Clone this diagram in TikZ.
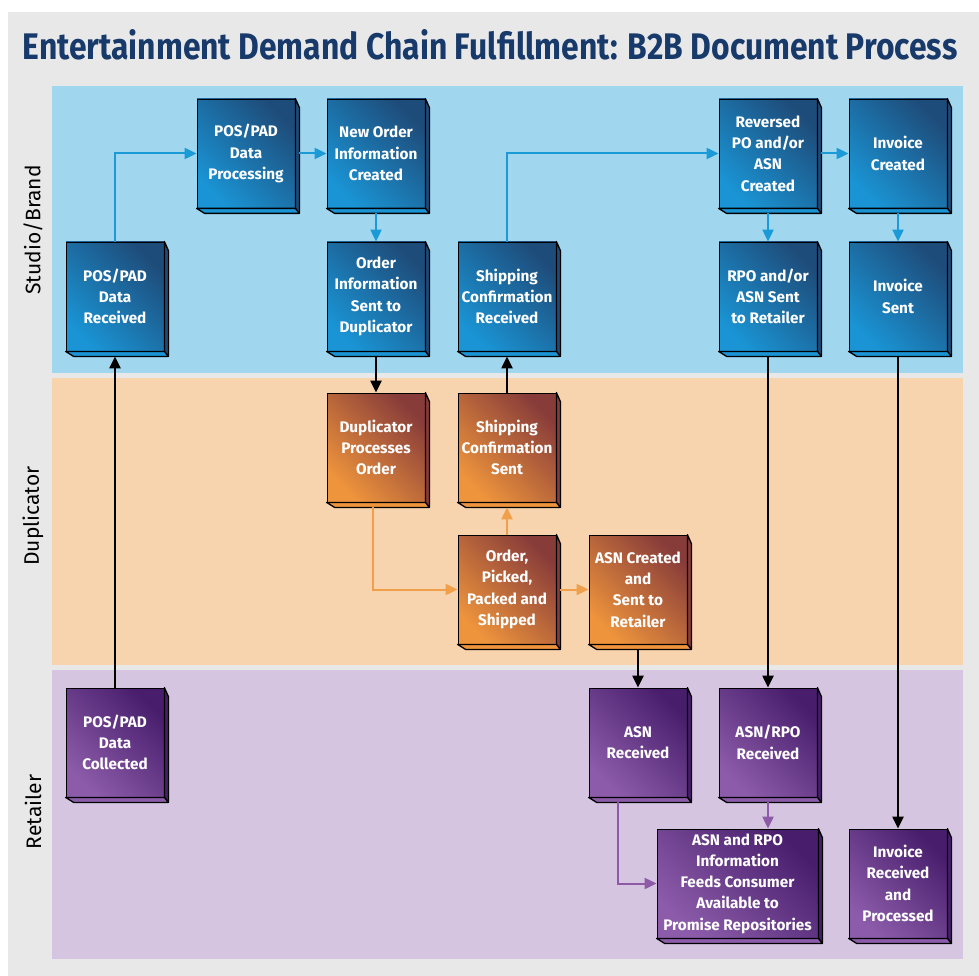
\documentclass[tikz,border=0pt]{standalone}
\usepackage{fontspec}
\setmainfont{Fira Sans}
\newfontfamily\titlefont[FakeStretch=0.86]{Fira Sans}
\usetikzlibrary{positioning,arrows.meta}
\definecolor{pagegrey}{RGB}{232,232,232}
\definecolor{titleblue}{RGB}{24,58,106}
\definecolor{lanestudio}{RGB}{160,214,238}
\definecolor{laneduplic}{RGB}{247,211,174}
\definecolor{laneretail}{RGB}{213,197,224}
\definecolor{dkblue}{RGB}{30,76,122}
\definecolor{ltblue}{RGB}{26,148,212}
\definecolor{dkorange}{RGB}{136,60,58}
\definecolor{ltorange}{RGB}{238,148,60}
\definecolor{dkpurple}{RGB}{72,30,108}
\definecolor{ltpurple}{RGB}{140,92,170}
\definecolor{arrblue}{RGB}{26,154,215}
\definecolor{arrorange}{RGB}{240,160,75}
\definecolor{arrpurple}{RGB}{141,90,167}
\tikzset{
  doc/.style={rectangle,draw=black,line width=0.8pt,minimum width=98pt,minimum height=109pt,inner sep=1pt,
    align=center,text=white,font=\bfseries\fontsize{15.3}{21.3}\selectfont},
  bdoc/.style={doc,top color=dkblue,bottom color=ltblue,shading angle=-45},
  odoc/.style={doc,top color=dkorange,bottom color=ltorange,shading angle=-45},
  pdoc/.style={doc,top color=dkpurple,bottom color=ltpurple,shading angle=-45},
  bevel/.style={line width=1.3pt,draw=black,line join=round},
  lanelab/.style={rotate=90,font=\fontsize{21}{24}\selectfont},
  barr/.style={draw=arrblue,line width=2pt,-{Triangle[length=12pt,width=11pt]}},
  oarr/.style={draw=arrorange,line width=2pt,-{Triangle[length=12pt,width=11pt]}},
  parr/.style={draw=arrpurple,line width=2pt,-{Triangle[length=12pt,width=11pt]}},
  karr/.style={draw=black,line width=2.2pt,-{Triangle[length=12pt,width=11pt]}}
}
\begin{document}
\begin{tikzpicture}[x=1pt,y=-1pt]
  \useasboundingbox (0,0) rectangle (979,976);
  \fill[pagegrey] (8,12) rectangle (979,976);
  \node[font=\titlefont\bfseries\fontsize{37}{40}\selectfont,text=titleblue] (title) at (490,45)
    {Entertainment Demand Chain Fulfillment: B2B Document Process};
  % swim lanes
  \fill[lanestudio] (52,86) rectangle (963,373);
  \fill[laneduplic] (52,378) rectangle (963,665);
  \fill[laneretail] (52,670) rectangle (963,959);
  \node[lanelab] (studio) at (33,230) {Studio/Brand};
  \node[lanelab] (duplic) at (33,516) {Duplicator};
  \node[lanelab] (retail) at (33,812) {Retailer};
  % studio/brand
  \node[bdoc] (proc) at (246,153.5) {POS/PAD\\Data\\Processing};
  \node[bdoc] (neword) at (376,153.5) {New Order\\Information\\Created};
  \node[bdoc] (revpo) at (768,153.5) {Reversed\\PO and/or\\ASN\\Created};
  \node[bdoc] (invcr) at (898,153.5) {Invoice\\Created};
  \node[bdoc] (rec) at (115,296.5) {POS/PAD\\Data\\Received};
  \node[bdoc] (ordsent) at (376,296.5) {Order\\Information\\Sent to\\Duplicator};
  \node[bdoc] (shiprec) at (507,296.5) {Shipping\\Confirmation\\Received};
  \node[bdoc] (rposent) at (768,296.5) {RPO and/or\\ASN Sent\\to Retailer};
  \node[bdoc] (invsent) at (898,296.5) {Invoice\\Sent};
  % duplicator
  \node[odoc] (dupproc) at (376,447.5) {Duplicator\\Processes\\Order};
  \node[odoc] (shipsent) at (507,447.5) {Shipping\\Confirmation\\Sent};
  \node[odoc] (picked) at (507,589.5) {Order,\\Picked,\\Packed and\\Shipped};
  \node[odoc] (asncr) at (638,589.5) {ASN Created\\and\\Sent to\\Retailer};
  % retailer
  \node[pdoc] (coll) at (115,742.5) {POS/PAD\\Data\\Collected};
  \node[pdoc] (asnrec) at (638,742.5) {ASN\\Received};
  \node[pdoc] (asnrpo) at (768,742.5) {ASN/RPO\\Received};
  \node[pdoc,minimum width=161pt] (info) at (737.5,883.5) {ASN and RPO\\Information\\Feeds Consumer\\Available to\\Promise Repositories};
  \node[pdoc] (invrec) at (898,883.5) {Invoice\\Received\\and\\Processed};
  % 3d edge of the documents
  \foreach \n/\c in {proc/blue,neword/blue,revpo/blue,invcr/blue,rec/blue,ordsent/blue,shiprec/blue,rposent/blue,invsent/blue,
      dupproc/orange,shipsent/orange,picked/orange,asncr/orange,coll/purple,asnrec/purple,asnrpo/purple,info/purple,invrec/purple}{
    \filldraw[bevel,fill=dk\c] (\n.north east) -- ([xshift=4pt,yshift=-9pt]\n.north east)
      -- ([xshift=4pt,yshift=-5pt]\n.south east) -- (\n.south east) -- cycle;
    \filldraw[bevel,fill=lt\c] (\n.south west) -- (\n.south east)
      -- ([xshift=4pt,yshift=-5pt]\n.south east) -- ([xshift=8pt,yshift=-5pt]\n.south west) -- cycle;
  }
  % connectors
  \draw[barr] (rec.north) |- (proc.west);
  \draw[barr] ([xshift=4pt]proc.east) -- (neword.west);
  \draw[barr] ([yshift=-5pt]neword.south) -- (ordsent.north);
  \draw[karr] ([yshift=-5pt]ordsent.south) -- (dupproc.north);
  \draw[oarr] ([xshift=-3pt,yshift=-5pt]dupproc.south) |- (picked.west);
  \draw[oarr] ([xshift=4pt]picked.east) -- (asncr.west);
  \draw[oarr] (picked.north) -- ([yshift=-5pt]shipsent.south);
  \draw[karr] (shipsent.north) -- ([yshift=-5pt]shiprec.south);
  \draw[barr] (shiprec.north) |- (revpo.west);
  \draw[barr] ([xshift=4pt]revpo.east) -- (invcr.west);
  \draw[barr] ([yshift=-5pt]revpo.south) -- (rposent.north);
  \draw[barr] ([yshift=-5pt]invcr.south) -- (invsent.north);
  \draw[karr] ([yshift=-5pt]asncr.south) -- (asnrec.north);
  \draw[karr] ([yshift=-5pt]rposent.south) -- (asnrpo.north);
  \draw[karr] ([yshift=-5pt]invsent.south) -- (invrec.north);
  \draw[karr] (coll.north) -- ([yshift=-5pt]rec.south);
  \draw[parr] ([yshift=-5pt]asnrpo.south) -- (info.north -| asnrpo.south);
  \draw[parr] ([xshift=-20pt,yshift=-5pt]asnrec.south) |- (info.west);
\end{tikzpicture}
\end{document}
